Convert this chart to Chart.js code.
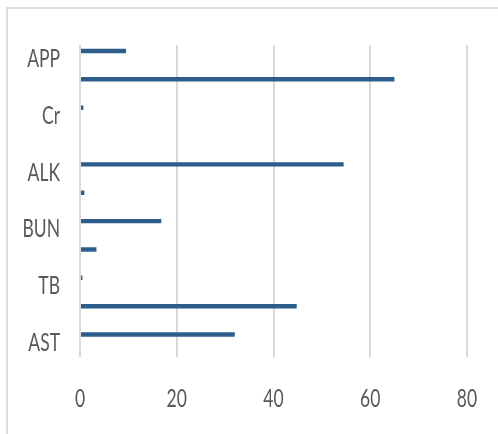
<!DOCTYPE html>
<html>
<head>
<meta charset="utf-8">
<script src="https://cdn.jsdelivr.net/npm/chart.js@4/dist/chart.umd.min.js"></script>
<style>
  html, body { margin: 0; padding: 0; background: #ffffff; }
  body { width: 498px; height: 434px; position: relative; overflow: hidden; }
  #frame {
    position: absolute; left: 6px; top: 7px;
    width: 520px; height: 460px;
    border: 2px solid #dcdcdc; box-sizing: border-box;
  }
  #wrap { position: absolute; left: 0; top: 0; width: 498px; height: 434px; }
</style>
</head>
<body>
<div id="frame"></div>
<div id="wrap"><canvas id="chart" width="498" height="434"></canvas></div>
<script>
// Category rows, top to bottom; every other row carries a label
const categories = ['APP', '', 'Cr', '', 'ALK', '', 'BUN', '', 'TB', '', 'AST'];
// Measured values per row
const seriesA = [9.5, 65, 0.7, 0, 54.5, 0.9, 16.8, 3.4, 0.5, 44.8, 32];
// Second series has no values (keeps its slot in each group)
const seriesB = [null, null, null, null, null, null, null, null, null, null, null];
// Value axis ticks
const xTicks = [0, 20, 40, 60, 80];

const FONT = "Lato, 'Open Sans', sans-serif";
const FONT_SIZE = 25;
const TEXT = '#595959';
const GRID = '#d9d9d9';

// Draws the axis tick labels in a condensed face (horizontally squeezed text)
const condensedTicks = {
  id: 'condensedTicks',
  afterDraw(chart) {
    const ctx = chart.ctx;
    const squeeze = 0.7;
    const draw = (text, x, y, align) => {
      ctx.save();
      ctx.translate(x, y);
      ctx.scale(squeeze, 1);
      ctx.textAlign = align;
      ctx.textBaseline = 'alphabetic';
      ctx.fillText(text, 0, 0);
      ctx.restore();
    };
    ctx.save();
    ctx.fillStyle = TEXT;
    ctx.font = FONT_SIZE + 'px ' + FONT;
    const ys = chart.scales.y;
    ys.ticks.forEach((t, i) => {
      if (t.label) draw(String(t.label), ys.right - 20, ys.getPixelForTick(i) + 8, 'right');
    });
    const xs = chart.scales.x;
    xs.ticks.forEach((t, i) => {
      draw(String(t.value), xs.getPixelForTick(i), xs.top + 50, 'center');
    });
    ctx.restore();
  }
};

new Chart(document.getElementById('chart'), {
  type: 'bar',
  data: {
    labels: categories,
    datasets: [
      { label: 'A', data: seriesA, backgroundColor: '#2d5d8b', categoryPercentage: 1.163, barPercentage: 0.27 },
      { label: 'B', data: seriesB, backgroundColor: '#2d5d8b', categoryPercentage: 1.163, barPercentage: 0.27 }
    ]
  },
  plugins: [condensedTicks],
  options: {
    indexAxis: 'y',
    responsive: false,
    animation: false,
    events: [],
    layout: { padding: { left: 0, top: 45, right: 31, bottom: 0 } },
    plugins: { legend: { display: false }, tooltip: { enabled: false } },
    scales: {
      x: {
        min: xTicks[0],
        max: xTicks[xTicks.length - 1],
        afterBuildTicks: s => { s.ticks = xTicks.map(v => ({ value: v })); },
        afterFit: s => { s.height = 77; },
        border: { display: false },
        grid: { color: GRID, lineWidth: 2, drawTicks: false },
        ticks: { color: 'rgba(0,0,0,0)', font: { family: FONT, size: 12 }, padding: 21 }
      },
      y: {
        afterFit: s => { s.width = 80; },
        border: { display: false },
        grid: { display: false, drawTicks: false },
        ticks: { color: 'rgba(0,0,0,0)', font: { family: FONT, size: 12 }, padding: 20, autoSkip: false }
      }
    }
  }
});
</script>
</body>
</html>
